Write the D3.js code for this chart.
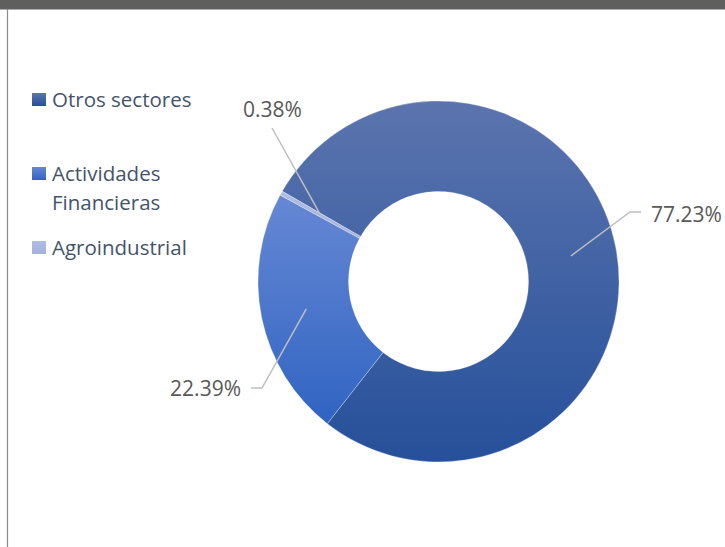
<!DOCTYPE html>
<html>
<head>
<meta charset="utf-8">
<script src="https://cdn.jsdelivr.net/npm/d3@7"></script>
<style>
  body { margin: 0; background: #fff; }
  text { font-family: "Open Sans", sans-serif; }
</style>
</head>
<body>
<script>

var categories = ['Otros sectores', 'Actividades Financieras', 'Agroindustrial'];
var legendLines = [['Otros sectores'], ['Actividades', 'Financieras'], ['Agroindustrial']];
var values = [77.23, 22.39, 0.38];
var valueLabels = ['77.23%', '22.39%', '0.38%'];

var svg = d3.select('body').append('svg')
    .attr('width', 725)
    .attr('height', 547);

// gradients per slice, top -> bottom
var grads = [
    ['#5b74ae', '#26509a'],
    ['#6688d4', '#3064c2'],
    ['#b0bde4', '#a3b1dc']
];
var defs = svg.append('defs');
grads.forEach(function(g, i) {
    var lg = defs.append('linearGradient')
        .attr('id', 'g' + i)
        .attr('x1', 0).attr('y1', 0)
        .attr('x2', 0).attr('y2', 1);
    lg.append('stop').attr('offset', '0%').attr('stop-color', g[0]);
    lg.append('stop').attr('offset', '100%').attr('stop-color', g[1]);
});

// frame
svg.append('rect')
    .attr('x', 0).attr('y', 0)
    .attr('width', 725).attr('height', 9.5)
    .attr('fill', '#5f605e');
svg.append('line')
    .attr('x1', 7.5).attr('x2', 7.5)
    .attr('y1', 9).attr('y2', 547)
    .attr('stroke', '#8a8a8a')
    .attr('stroke-width', 1.2);

var cx = 438.5, cy = 281.5;
var start = -60 * Math.PI / 180;

var pie = d3.pie()
    .sort(null)
    .startAngle(start)
    .endAngle(start + 2 * Math.PI);

var arc = d3.arc()
    .innerRadius(90)
    .outerRadius(180.5);

var midArc = d3.arc()
    .innerRadius(135)
    .outerRadius(135);

var arcs = pie(values);

var g = svg.append('g').attr('transform', 'translate(' + cx + ',' + cy + ')');

g.selectAll('path.slice')
    .data(arcs)
    .enter().append('path')
    .attr('class', 'slice')
    .attr('d', arc)
    .attr('fill', function(d, i) { return 'url(#g' + i + ')'; })
    .attr('stroke', '#fff')
    .attr('stroke-width', 0.3);

// label layout (text anchor point + elbow)
var labelPos = [
    { tx: 651, ty: 222, anchor: 'start', elbow: [[630, 212], [641, 212]] },
    { tx: 241, ty: 396, anchor: 'end', elbow: [[262, 388], [251, 388]] },
    { tx: 243, ty: 117, anchor: 'start', elbow: [[272, 128]] }
];

arcs.forEach(function(d, i) {
    var c = midArc.centroid(d);
    var pts = [[cx + c[0], cy + c[1]]].concat(labelPos[i].elbow);
    svg.append('path')
        .attr('d', d3.line()(pts))
        .attr('fill', 'none')
        .attr('stroke', '#bfbfbf')
        .attr('stroke-width', 1.5);
    svg.append('text')
        .attr('x', labelPos[i].tx)
        .attr('y', labelPos[i].ty)
        .attr('text-anchor', labelPos[i].anchor)
        .attr('font-size', 21)
        .attr('fill', '#595959')
        .text(valueLabels[i]);
});

// legend
var legendY = [93, 167, 241];
var legend = svg.append('g');
categories.forEach(function(c, i) {
    legend.append('rect')
        .attr('x', 32).attr('y', legendY[i])
        .attr('width', 14).attr('height', 13)
        .attr('fill', 'url(#g' + i + ')');
    legendLines[i].forEach(function(line, j) {
        legend.append('text')
            .attr('x', 52)
            .attr('y', legendY[i] + 14 + j * 28.5)
            .attr('font-size', 20.5)
            .attr('fill', '#44546a')
            .text(line);
    });
});

</script>
</body>
</html>
